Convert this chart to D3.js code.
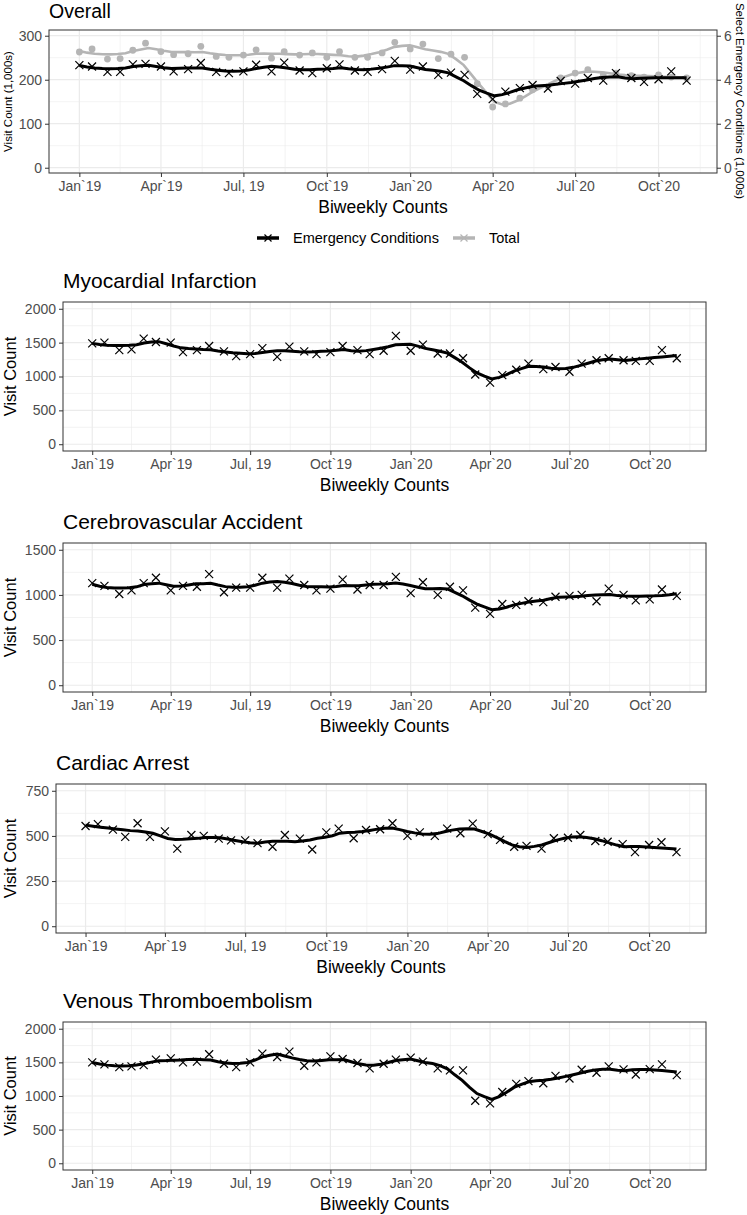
<!DOCTYPE html>
<html><head><meta charset="utf-8">
<script src="https://cdn.jsdelivr.net/npm/d3@7"></script>
<style>body{margin:0;background:#fff} text{font-family:"Liberation Sans",Arial,Helvetica,sans-serif}</style>
</head><body><svg id="c" width="747" height="1215"></svg>
<script>
// ---------- DATA ----------
const dates = ["2019-01-01","2019-01-15","2019-02-01","2019-02-15","2019-03-01","2019-03-15","2019-04-01","2019-04-15","2019-05-01","2019-05-15","2019-06-01","2019-06-15","2019-07-01","2019-07-15","2019-08-01","2019-08-15","2019-09-01","2019-09-15","2019-10-01","2019-10-15","2019-11-01","2019-11-15","2019-12-01","2019-12-15","2020-01-01","2020-01-15","2020-02-01","2020-02-15","2020-03-01","2020-03-15","2020-04-01","2020-04-15","2020-05-01","2020-05-15","2020-06-01","2020-06-15","2020-07-01","2020-07-15","2020-08-01","2020-08-15","2020-09-01","2020-09-15","2020-10-01","2020-10-15","2020-11-01"];
// Overall: Total visits (1,000s, left axis) and select emergency conditions (1,000s, right axis)
const totalVisits = [263,270,247,248,267,283,264,257,259,276,253,251,256,268,249,264,256,261,251,264,251,251,261,285,270,281,248,258,251,191,138,145,158,177,185,204,215,223,211,215,209,206,211,206,204];
const emergencyConditions = [4.66,4.60,4.36,4.36,4.70,4.72,4.60,4.38,4.48,4.76,4.36,4.30,4.38,4.68,4.38,4.78,4.42,4.30,4.52,4.70,4.42,4.36,4.48,4.86,4.46,4.60,4.22,4.32,4.22,3.36,3.12,3.46,3.62,3.76,3.60,3.94,3.82,4.08,3.96,4.30,4.08,3.90,4.02,4.38,3.96];
const myocardialInfarction = [1490,1500,1390,1400,1560,1510,1500,1360,1390,1450,1370,1300,1330,1420,1290,1440,1370,1330,1360,1450,1390,1330,1380,1600,1380,1470,1340,1340,1270,1030,910,1020,1100,1190,1110,1140,1070,1190,1240,1270,1240,1230,1230,1390,1270];
const cerebrovascularAccident = [1130,1100,1010,1050,1130,1190,1050,1100,1090,1230,1030,1080,1080,1190,1080,1180,1110,1050,1070,1170,1060,1110,1110,1200,1020,1140,1000,1090,1050,860,790,900,890,930,920,980,990,1000,930,1070,1000,940,950,1060,990];
const cardiacArrest = [555,565,535,495,570,495,525,430,505,500,485,475,475,460,440,505,485,425,520,540,487,533,537,570,500,520,500,540,515,568,510,478,440,445,430,487,490,505,472,468,455,410,450,465,410];
const venousThromboembolism = [1500,1470,1430,1440,1460,1540,1560,1500,1510,1620,1480,1430,1500,1630,1580,1660,1450,1500,1590,1550,1490,1410,1480,1540,1570,1510,1410,1380,1380,930,890,1060,1180,1220,1190,1300,1260,1390,1345,1440,1395,1320,1400,1470,1310];

const xTickDates = ["2019-01-01","2019-04-01","2019-07-01","2019-10-01","2020-01-01","2020-04-01","2020-07-01","2020-10-01"];
const xTickLabels = ["Jan`19","Apr`19","Jul, 19","Oct`19","Jan`20","Apr`20","Jul`20","Oct`20"];
const overallLeftTicks = [0,100,200,300];
const overallRightTicks = [0,2,4,6];
const miTicks = [0,500,1000,1500,2000];
const cvaTicks = [0,500,1000,1500];
const caTicks = [0,250,500,750];
const vteTicks = [0,500,1000,1500,2000];
const legendLabels = ["Emergency Conditions","Total"];

// ---------- HELPERS ----------
const parse = d3.utcParse("%Y-%m-%d");
const xs = dates.map(parse);
const xMaj = xTickDates.map(parse);
const xMin = [];
for (let i = 0; i < xMaj.length; i++) {
  const a = xMaj[i], b = i < xMaj.length - 1 ? xMaj[i+1] : new Date(+xMaj[i] + (+xMaj[i] - +xMaj[i-1]));
  xMin.push(new Date((+a + +b) / 2));
}
const x0 = +xs[0], x1 = +xs[xs.length-1], ex = (x1 - x0) * 0.05;
const xDomain = [new Date(x0 - ex), new Date(x1 + ex)];

function loess(xv, yv, span, ev) {
  const n = xv.length, q = Math.floor(n * span);
  return ev.map(p => {
    const d = xv.map(v => Math.abs(v - p));
    const h = [...d].sort((a,b)=>a-b)[q-1] * 1.0001;
    const S = [[0,0,0],[0,0,0],[0,0,0]], B = [0,0,0];
    for (let i = 0; i < n; i++) {
      const u = d[i] / h; if (u >= 1) continue;
      const w = Math.pow(1 - u*u*u, 3);
      const t = (xv[i] - p) / h, bs = [1, t, t*t];
      for (let r = 0; r < 3; r++) { B[r] += w*bs[r]*yv[i]; for (let c = 0; c < 3; c++) S[r][c] += w*bs[r]*bs[c]; }
    }
    const M = S.map((r,i)=>[...r, B[i]]);
    for (let c = 0; c < 3; c++) {
      let piv = c; for (let r = c+1; r < 3; r++) if (Math.abs(M[r][c]) > Math.abs(M[piv][c])) piv = r;
      [M[c], M[piv]] = [M[piv], M[c]];
      for (let r = 0; r < 3; r++) if (r !== c) { const f = M[r][c]/M[c][c]; for (let k = c; k < 4; k++) M[r][k] -= f*M[c][k]; }
    }
    return M[0][3] / M[0][0];
  });
}
const SPAN = 0.2;
const evalX = d3.range(80).map(i => x0 + (x1 - x0) * i / 79);
const xNum = xs.map(d => +d);

const svg = d3.select("#c");
const GRID = "#EBEBEB", BORDER = "#333333", TICKTXT = "#4D4D4D";

function xMark(g, cx, cy, color, s=4) {
  g.append("path").attr("d", `M${cx-s},${cy-s}L${cx+s},${cy+s}M${cx-s},${cy+s}L${cx+s},${cy-s}`)
   .attr("stroke", color).attr("stroke-width", 1.2).attr("fill", "none");
}

function panel(cfg) {
  const g = svg.append("g");
  const x = d3.scaleUtc().domain(xDomain).range([cfg.left, cfg.right]);
  const y = d3.scaleLinear().domain(cfg.yDomain).range([cfg.bottom, cfg.top]);
  const yMinor = cfg.yTicks.slice(0,-1).map((t,i)=>(t+cfg.yTicks[i+1])/2);
  g.selectAll(".ymin").data(yMinor).join("line").attr("x1",cfg.left).attr("x2",cfg.right)
    .attr("y1",d=>y(d)).attr("y2",d=>y(d)).attr("stroke",GRID).attr("stroke-width",0.6);
  g.selectAll(".xmin").data(xMin.filter(d=>d>=xDomain[0]&&d<=xDomain[1])).join("line")
    .attr("x1",d=>x(d)).attr("x2",d=>x(d)).attr("y1",cfg.top).attr("y2",cfg.bottom).attr("stroke",GRID).attr("stroke-width",0.6);
  g.selectAll(".ymaj").data(cfg.yTicks).join("line").attr("x1",cfg.left).attr("x2",cfg.right)
    .attr("y1",d=>y(d)).attr("y2",d=>y(d)).attr("stroke",GRID).attr("stroke-width",1.2);
  g.selectAll(".xmaj").data(xMaj).join("line")
    .attr("x1",d=>x(d)).attr("x2",d=>x(d)).attr("y1",cfg.top).attr("y2",cfg.bottom).attr("stroke",GRID).attr("stroke-width",1.2);

  cfg.draw(g, x, y);

  g.append("rect").attr("x",cfg.left).attr("y",cfg.top).attr("width",cfg.right-cfg.left).attr("height",cfg.bottom-cfg.top)
    .attr("fill","none").attr("stroke",BORDER).attr("stroke-width",1);

  const ya = d3.axisLeft(y).tickValues(cfg.yTicks).tickSize(4).tickPadding(3).tickFormat(d3.format("d"));
  const yg = g.append("g").attr("transform",`translate(${cfg.left},0)`).call(ya);
  yg.select(".domain").remove();
  yg.selectAll("line").attr("stroke",BORDER);
  yg.selectAll("text").attr("fill",TICKTXT).attr("font-size",14).attr("font-family","Liberation Sans, Arial, sans-serif");
  const xa = d3.axisBottom(x).tickValues(xMaj).tickSize(4).tickPadding(4).tickFormat((d,i)=>xTickLabels[i]);
  const xg = g.append("g").attr("transform",`translate(0,${cfg.bottom})`).call(xa);
  xg.select(".domain").remove();
  xg.selectAll("line").attr("stroke",BORDER);
  xg.selectAll("text").attr("fill",TICKTXT).attr("font-size",14).attr("font-family","Liberation Sans, Arial, sans-serif");

  g.append("text").attr("x",cfg.left).attr("y",cfg.titleY || cfg.top-14).attr("font-size",cfg.titleSize || 21).attr("fill","#000").text(cfg.title);
  g.append("text").attr("x",(cfg.left+cfg.right)/2).attr("y",cfg.bottom+40).attr("text-anchor","middle")
    .attr("font-size",17.5).attr("fill","#000").text("Biweekly Counts");
  g.append("text").attr("transform",`translate(${cfg.yTitleX},${(cfg.top+cfg.bottom)/2}) rotate(-90)`)
    .attr("text-anchor","middle").attr("font-size",cfg.yTitleSize).attr("fill","#000").text(cfg.yTitle);
  return {g, x, y};
}

function singleDraw(values) {
  return (g, x, y) => {
    xs.forEach((d,i)=>xMark(g, x(d), y(values[i]), "#000"));
    const sm = loess(xNum, values, SPAN, evalX);
    g.append("path").datum(evalX.map((v,i)=>[v, sm[i]]))
      .attr("d", d3.line().x(d=>x(new Date(d[0]))).y(d=>y(d[1])))
      .attr("fill","none").attr("stroke","#000").attr("stroke-width",3);
  };
}

// ---------- OVERALL ----------
const GRAY = "#B5B5B5";
panel({
  title:"Overall", titleY:18, titleSize:19.5, left:49, right:717, top:30, bottom:173, yDomain:[-12,313], yTicks:overallLeftTicks,
  yTitle:"Visit Count (1,000s)", yTitleX:11.5, yTitleSize:11.5,
  draw:(g,x,y)=>{
    const smT = loess(xNum, totalVisits, SPAN, evalX);
    g.append("path").datum(evalX.map((v,i)=>[v, smT[i]]))
      .attr("d", d3.line().x(d=>x(new Date(d[0]))).y(d=>y(d[1])))
      .attr("fill","none").attr("stroke",GRAY).attr("stroke-width",2.6);
    g.selectAll(".tot").data(totalVisits).join("circle").attr("cx",(d,i)=>x(xs[i])).attr("cy",d=>y(d)).attr("r",3.4).attr("fill",GRAY);
    emergencyConditions.forEach((v,i)=>xMark(g, x(xs[i]), y(v*50), "#000"));
    const smE = loess(xNum, emergencyConditions, SPAN, evalX);
    g.append("path").datum(evalX.map((v,i)=>[v, smE[i]*50]))
      .attr("d", d3.line().x(d=>x(new Date(d[0]))).y(d=>y(d[1])))
      .attr("fill","none").attr("stroke","#000").attr("stroke-width",3);
  }
});
{
  const yr = d3.scaleLinear().domain([-12/50, 313/50]).range([173,30]);
  const ra = d3.axisRight(yr).tickValues(overallRightTicks).tickSize(4).tickPadding(3).tickFormat(d3.format("d"));
  const rg = svg.append("g").attr("transform","translate(717,0)").call(ra);
  rg.select(".domain").remove();
  rg.selectAll("line").attr("stroke",BORDER);
  rg.selectAll("text").attr("fill",TICKTXT).attr("font-size",14).attr("font-family","Liberation Sans, Arial, sans-serif");
  svg.append("text").attr("transform",`translate(735.5,101) rotate(90)`).attr("text-anchor","middle")
    .attr("font-size",11.5).attr("fill","#000").text("Select Emergency Conditions (1,000s)");
}
{
  const lg = svg.append("g");
  const items = [{x:257, c:"#000", label:legendLabels[0]}, {x:453, c:GRAY, label:legendLabels[1]}];
  items.forEach(it=>{
    lg.append("line").attr("x1",it.x).attr("x2",it.x+22).attr("y1",238).attr("y2",238).attr("stroke",it.c).attr("stroke-width",3.5);
    xMark(lg, it.x+11, 238, it.c, 3.5);
    lg.append("text").attr("x",it.x+36).attr("y",243).attr("font-size",14.5).attr("fill","#000").text(it.label);
  });
}

// ---------- CONDITION PANELS ----------
panel({title:"Myocardial Infarction", left:63, right:706, top:302, bottom:451, yDomain:[-100,2100], yTicks:miTicks,
  yTitle:"Visit Count", yTitleX:15.5, yTitleSize:16.5, draw:singleDraw(myocardialInfarction)});
panel({title:"Cerebrovascular Accident", left:63, right:706, top:543, bottom:692, yDomain:[-75,1575], yTicks:cvaTicks,
  yTitle:"Visit Count", yTitleX:15.5, yTitleSize:16.5, draw:singleDraw(cerebrovascularAccident)});
panel({title:"Cardiac Arrest", left:56, right:706, top:784, bottom:933, yDomain:[-37.5,787.5], yTicks:caTicks,
  yTitle:"Visit Count", yTitleX:15.5, yTitleSize:16.5, draw:singleDraw(cardiacArrest)});
panel({title:"Venous Thromboembolism", left:63, right:706, top:1022, bottom:1170, yDomain:[-100,2100], yTicks:vteTicks,
  yTitle:"Visit Count", yTitleX:15.5, yTitleSize:16.5, draw:singleDraw(venousThromboembolism)});
</script></body></html>
